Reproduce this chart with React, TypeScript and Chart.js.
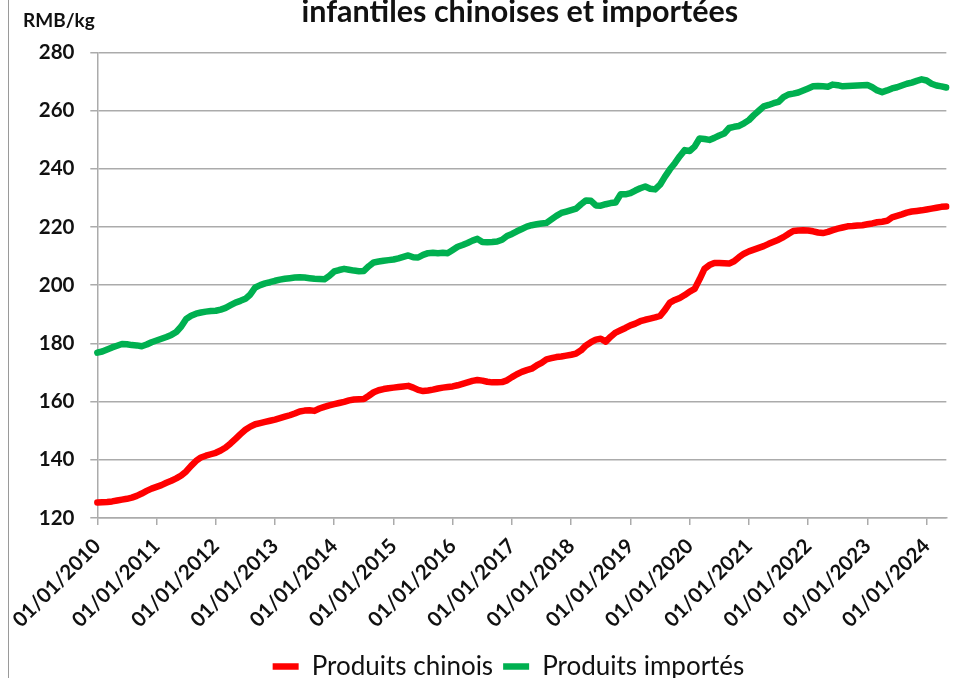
import React, { useEffect, useRef } from 'react';
import { Chart, registerables } from 'chart.js';

Chart.register(...registerables);

const titleText = 'infantiles chinoises et importées';
const unitText = 'RMB/kg';

const yearTickLabels = [
  '01/01/2010', '01/01/2011', '01/01/2012', '01/01/2013', '01/01/2014',
  '01/01/2015', '01/01/2016', '01/01/2017', '01/01/2018', '01/01/2019',
  '01/01/2020', '01/01/2021', '01/01/2022', '01/01/2023', '01/01/2024',
];

const seriesNames = ['Produits chinois', 'Produits importés'];

// monthly categories, Jan 2010 .. May 2024
const months: string[] = [];
for (let y = 2010; y <= 2024; y++) {
  for (let m = 1; m <= 12; m++) {
    if (y === 2024 && m > 5) break;
    months.push(`01/${String(m).padStart(2, '0')}/${y}`);
  }
}

const chinois = [
  125.3, 125.4, 125.5, 125.7, 126.0, 126.3, 126.6, 127.0, 127.6, 128.4, 129.3, 130.1,
  130.7, 131.3, 132.1, 132.8, 133.6, 134.6, 136.0, 137.9, 139.6, 140.8, 141.4, 141.9,
  142.4, 143.2, 144.2, 145.6, 147.2, 148.8, 150.3, 151.4, 152.2, 152.6, 153.0, 153.4,
  153.8, 154.3, 154.8, 155.3, 155.9, 156.6, 156.9, 157.0, 156.8, 157.6, 158.2, 158.7,
  159.1, 159.5, 159.9, 160.4, 160.7, 160.8, 160.9, 162.0, 163.2, 163.9, 164.3, 164.6,
  164.8, 165.0, 165.2, 165.4, 164.8, 164.0, 163.6, 163.8, 164.1, 164.5, 164.8, 165.0,
  165.2, 165.6, 166.1, 166.6, 167.1, 167.4, 167.2, 166.8, 166.6, 166.6, 166.7, 167.3,
  168.4, 169.4, 170.2, 170.8, 171.3, 172.4, 173.3, 174.5, 174.9, 175.3, 175.5, 175.8,
  176.1, 176.5, 177.6, 179.3, 180.4, 181.3, 181.6, 180.6, 182.3, 183.7, 184.5, 185.3,
  186.2, 186.8, 187.6, 188.1, 188.5, 188.9, 189.4, 191.5, 194.0, 194.9, 195.6, 196.6,
  197.8, 198.7, 202.0, 205.6, 206.9, 207.6, 207.6, 207.5, 207.4, 208.2, 209.6, 210.8,
  211.6, 212.2, 212.8, 213.4, 214.2, 214.9, 215.6, 216.5, 217.6, 218.6, 218.8, 218.9,
  218.8, 218.5, 218.1, 217.9, 218.3, 218.9, 219.4, 219.8, 220.2, 220.3, 220.5, 220.6,
  220.9, 221.2, 221.6, 221.8, 222.1, 223.3, 223.8, 224.3, 224.9, 225.3, 225.5, 225.7,
  226.0, 226.3, 226.6, 226.9, 227.0,
];

const importes = [
  176.8, 177.2, 177.9, 178.6, 179.2, 179.8, 179.7, 179.4, 179.3, 179.0, 179.6, 180.4,
  181.0, 181.6, 182.2, 182.9, 183.9, 185.8, 188.4, 189.5, 190.2, 190.6, 190.9, 191.1,
  191.2, 191.6, 192.2, 193.1, 194.0, 194.6, 195.3, 196.8, 199.2, 200.0, 200.6, 201.0,
  201.5, 201.9, 202.2, 202.4, 202.6, 202.7, 202.6, 202.4, 202.2, 202.1, 202.0, 203.2,
  204.7, 205.2, 205.6, 205.3, 205.0, 204.8, 204.9, 206.5, 207.8, 208.1, 208.4, 208.6,
  208.8, 209.2, 209.7, 210.2, 209.6, 209.5, 210.4, 211.0, 211.1, 211.0, 211.1, 211.0,
  212.1, 213.2, 213.8, 214.5, 215.3, 215.9, 214.8, 214.7, 214.8, 215.0, 215.6, 216.9,
  217.6, 218.5, 219.3, 220.1, 220.6, 220.9, 221.2, 221.4, 222.6, 223.8, 224.8, 225.3,
  225.8, 226.3, 227.8, 229.1, 229.0, 227.4, 227.3, 227.8, 228.2, 228.4, 231.2, 231.2,
  231.6, 232.5, 233.3, 233.9, 233.1, 232.9, 234.5, 237.3, 239.8, 241.9, 244.3, 246.4,
  246.1, 247.6, 250.4, 250.2, 249.9, 250.6, 251.4, 252.1, 254.0, 254.4, 254.7, 255.6,
  256.7, 258.4, 259.9, 261.4, 261.9, 262.5, 263.0, 264.6, 265.5, 265.8, 266.2, 266.9,
  267.6, 268.3, 268.4, 268.3, 268.2, 268.9, 268.7, 268.3, 268.4, 268.5, 268.6, 268.7,
  268.8, 268.0, 266.9, 266.3, 266.9, 267.6, 268.0, 268.6, 269.2, 269.6, 270.2, 270.7,
  270.3, 269.2, 268.6, 268.3, 267.9,
];

const seriesColors = ['#ff0000', '#00b050'];
const gridColor = '#ababab';
const textColor = '#111111';

const annotate = {
  id: 'annotate',
  afterDraw(chart: any) {
    const { ctx, chartArea } = chart;
    ctx.save();
    ctx.fillStyle = textColor;
    ctx.textBaseline = 'alphabetic';
    ctx.font = 'bold 30.5px Lato';
    ctx.textAlign = 'center';
    ctx.fillText(titleText, (chartArea.left + chartArea.right) / 2 - 2, 22);
    ctx.font = 'bold 19px Lato';
    ctx.textAlign = 'left';
    ctx.fillText(unitText, 23, 27);
    ctx.restore();
  },
};

export default function App() {
  const ref = useRef<HTMLCanvasElement | null>(null);

  useEffect(() => {
    if (!ref.current) return;
    Chart.defaults.font.family = 'Lato';
    Chart.defaults.color = textColor;
    const lineStyle = {
      borderWidth: 6.5,
      pointRadius: 0,
      pointStyle: 'line',
      tension: 0,
      borderJoinStyle: 'round',
      borderCapStyle: 'round',
    };
    const chart = new Chart(ref.current, {
      type: 'line',
      data: {
        labels: months,
        datasets: [
          {
            label: seriesNames[0],
            data: chinois,
            borderColor: seriesColors[0],
            backgroundColor: seriesColors[0],
            ...lineStyle,
          },
          {
            label: seriesNames[1],
            data: importes,
            borderColor: seriesColors[1],
            backgroundColor: seriesColors[1],
            ...lineStyle,
          },
        ],
      } as any,
      options: {
        animation: false,
        responsive: false,
        maintainAspectRatio: false,
        layout: { padding: { top: 52.3, left: 64, right: 0, bottom: 10.5 } },
        plugins: {
          title: { display: false },
          tooltip: { enabled: false },
          legend: {
            display: true,
            position: 'bottom',
            labels: {
              usePointStyle: true,
              pointStyleWidth: 26,
              padding: 10,
              color: textColor,
              font: { size: 26, family: 'Lato' },
            },
          },
        },
        scales: {
          x: {
            type: 'category',
            offset: false,
            afterBuildTicks: (scale: any) => {
              scale.ticks = yearTickLabels.map((_, k) => ({ value: k * 12 }));
            },
            afterFit: (scale: any) => {
              scale.height = 125.5;
            },
            grid: {
              display: true,
              drawOnChartArea: false,
              drawTicks: true,
              tickLength: 7,
              color: gridColor,
              lineWidth: 1.5,
            },
            border: { display: true, color: gridColor, width: 1.5 },
            ticks: {
              autoSkip: false,
              maxRotation: 45,
              minRotation: 45,
              padding: 9,
              color: textColor,
              font: { size: 20.5, weight: 'bold', family: 'Lato' },
              callback: (_v: any, i: number) => yearTickLabels[i],
            },
          },
          y: {
            min: 120,
            max: 280,
            afterFit: (scale: any) => {
              scale.width = 33.3;
            },
            grid: {
              color: gridColor,
              lineWidth: 1.5,
              drawTicks: true,
              tickLength: 7,
            },
            border: { display: true, color: gridColor, width: 1.5 },
            ticks: {
              stepSize: 20,
              mirror: true,
              crossAlign: 'far',
              padding: -58.5,
              color: textColor,
              font: { size: 20.5, weight: 'bold', family: 'Lato' },
            },
          },
        },
      } as any,
      plugins: [annotate],
    });
    return () => chart.destroy();
  }, []);

  return (
    <div
      style={{
        position: 'fixed',
        left: 0,
        top: 0,
        width: 953,
        height: 678,
        overflow: 'hidden',
        background: '#ffffff',
      }}
    >
      <div
        style={{
          position: 'absolute',
          left: 8,
          top: 0,
          width: 1,
          height: 678,
          background: '#9a9a9a',
        }}
      />
      <canvas
        ref={ref}
        width={953}
        height={700}
        style={{ position: 'absolute', left: 0, top: 0, width: 953, height: 700 }}
      />
    </div>
  );
}
